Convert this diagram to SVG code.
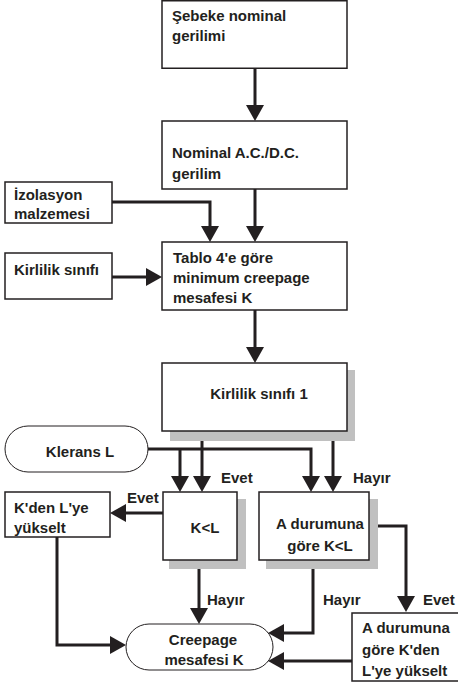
<svg xmlns="http://www.w3.org/2000/svg" width="458" height="684" viewBox="0 0 458 684">
<style>
.box{fill:#fff;stroke:#231f20;stroke-width:1.5}
.pill{fill:#fff;stroke:#231f20;stroke-width:1}
.sh{fill:#c0c0c0}
.t{font-family:"Liberation Sans",Arial,sans-serif;font-weight:bold;font-size:15px;fill:#231f20}
.m{text-anchor:middle}
.c{fill:none;stroke:#231f20;stroke-width:3;marker-end:url(#ah)}
</style>
<defs>
<marker id="ah" markerUnits="userSpaceOnUse" markerWidth="18" markerHeight="18" refX="8" refY="9" orient="auto" viewBox="0 0 16 18">
<path d="M0,0 L16,9 L0,18 z" fill="#231f20"/>
</marker>
</defs>
<g id="connectors">
<path class="c" d="M255,68 V113"/>
<path class="c" d="M255,189 V234"/>
<path class="c" d="M112,202 H210 V234"/>
<path class="c" d="M112,277 H154"/>
<path class="c" d="M255,310 V355"/>
<path class="c" d="M148,449 H311 V484"/>
<path class="c" d="M180,449 V484"/>
<path class="c" d="M202,431 V484"/>
<path class="c" d="M333,431 V484"/>
<path class="c" d="M163,513 H118"/>
<path class="c" d="M369,526 H406 V604"/>
<path class="c" d="M57,537 V645 H118"/>
<path class="c" d="M199,560 V616"/>
<path class="c" d="M313,560 V633 H276"/>
<path class="c" d="M352,661 H276"/>
</g>
<g id="sebeke">
<rect class="box" x="162" y="0.75" width="185" height="67.5"/>
<text class="t" x="172" y="21">Şebeke nominal</text>
<text class="t" x="172" y="41">gerilimi</text>
</g>
<g id="nominal">
<rect class="box" x="162" y="121" width="185" height="68"/>
<text class="t" x="172" y="158">Nominal A.C./D.C.</text>
<text class="t" x="172" y="179">gerilim</text>
</g>
<g id="izolasyon">
<rect class="box" x="5" y="182" width="107" height="41"/>
<text class="t" x="14" y="200">İzolasyon</text>
<text class="t" x="14" y="219">malzemesi</text>
</g>
<g id="kirlilik">
<rect class="box" x="5" y="253" width="107" height="46"/>
<text class="t" x="14" y="275">Kirlilik sınıfı</text>
</g>
<g id="tablo">
<rect class="box" x="162" y="242" width="185" height="68"/>
<text class="t" x="173" y="263">Tablo 4'e göre</text>
<text class="t" x="173" y="283">minimum creepage</text>
<text class="t" x="173" y="303">mesafesi K</text>
</g>
<g id="kirlilik1">
<rect class="sh" x="170" y="370" width="185" height="71"/>
<rect class="box" x="162" y="363" width="185" height="68"/>
<text class="t m" x="259" y="399">Kirlilik sınıfı 1</text>
</g>
<g id="klerans">
<rect class="pill" x="5" y="426" width="143" height="46" rx="23" ry="23"/>
<text class="t m" x="80" y="457">Klerans L</text>
</g>
<g id="kl">
<rect class="sh" x="169" y="499" width="77" height="70"/>
<rect class="box" x="163" y="492" width="74" height="68"/>
<text class="t m" x="205" y="533">K&lt;L</text>
</g>
<g id="adurum">
<rect class="sh" x="266" y="499" width="112" height="70"/>
<rect class="box" x="259" y="492" width="110" height="68"/>
<text class="t m" x="320" y="529">A durumuna</text>
<text class="t m" x="320" y="551">göre K&lt;L</text>
</g>
<g id="kden">
<rect class="box" x="5" y="492" width="105" height="45"/>
<text class="t" x="14" y="513">K'den L'ye</text>
<text class="t" x="14" y="533">yükselt</text>
</g>
<g id="creepage">
<rect class="pill" x="126" y="624" width="147" height="46" rx="23" ry="23"/>
<text class="t m" x="203" y="645">Creepage</text>
<text class="t m" x="204" y="665">mesafesi K</text>
</g>
<g id="adurumkden">
<rect class="box" x="352" y="613" width="110" height="68"/>
<text class="t" x="362" y="633">A durumuna</text>
<text class="t" x="362" y="655">göre K'den</text>
<text class="t" x="362" y="676">L'ye yükselt</text>
</g>
<g id="labels">
<text class="t" x="127" y="503">Evet</text>
<text class="t" x="221" y="483">Evet</text>
<text class="t" x="353" y="483">Hayır</text>
<text class="t" x="207" y="605">Hayır</text>
<text class="t" x="323" y="605">Hayır</text>
<text class="t" x="423" y="605">Evet</text>
</g>
</svg>
